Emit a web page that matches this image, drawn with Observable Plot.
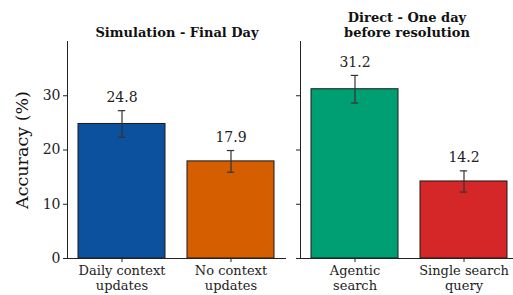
<!DOCTYPE html>
<html><head><meta charset="utf-8">
<script src="https://cdn.jsdelivr.net/npm/d3@7"></script>
<script src="https://cdn.jsdelivr.net/npm/@observablehq/plot@0.6"></script>
<style>
body{margin:0;background:#fff;}
#wrap{display:flex;width:513px;height:295px;overflow:hidden;}
svg{overflow:visible;}
</style></head><body><div id="wrap"></div>
<script>
const leftTitle = "Simulation - Final Day";
const leftCats = ["Daily context\nupdates", "No context\nupdates"];
const leftVals = [24.8, 17.9];
const leftErr = [2.45, 2.0];
const leftColors = ["#0b519e", "#d55e00"];

const rightTitle = "Direct - One day\nbefore resolution";
const rightCats = ["Agentic\nsearch", "Single search\nquery"];
const rightVals = [31.2, 14.2];
const rightErr = [2.55, 1.95];
const rightColors = ["#009e73", "#d62728"];

const yTicks = [0, 10, 20, 30];
const yLabel = "Accuracy (%)";

const FONT = "DejaVu Serif";

function panel({title, cats, vals, errs, colors, width, marginLeft, xRange, showLabels}) {
  const data = cats.map((c, i) => ({c, v: vals[i], e: errs[i], col: colors[i]}));
  const marks = [
    Plot.barY(data, {x: "c", y: "v", fill: "col", stroke: "#1a1a1a", strokeWidth: 1}),
    Plot.ruleX(data, {x: "c", y1: d => d.v - d.e, y2: d => d.v + d.e, stroke: "#333", strokeWidth: 1.2}),
    Plot.tickY(data, {x: "c", y: d => d.v - d.e, stroke: "#333", strokeWidth: 1.2, insetLeft: 39.8, insetRight: 39.8}),
    Plot.tickY(data, {x: "c", y: d => d.v + d.e, stroke: "#333", strokeWidth: 1.2, insetLeft: 39.8, insetRight: 39.8}),
    Plot.text(data, {x: "c", y: d => d.v + d.e, text: d => d.v.toFixed(1), dy: -13, fontSize: 14, fill: "#222"}),
    Plot.ruleY([0], {stroke: "#222", strokeWidth: 1}),
    Plot.frame({anchor: "left", stroke: "#222", strokeWidth: 1}),
    Plot.axisY({ticks: yTicks, tickSize: 4, tickPadding: 3, fontSize: 14, label: null,
      tickFormat: showLabels ? d => String(d) : () => "", stroke: "#222", fill: "#222"}),
    Plot.axisX({tickSize: 4, tickPadding: 3, fontSize: 13, label: null, lineHeight: 1.08, stroke: "#222", fill: "#222"}),
    Plot.text([title], {frameAnchor: "top", lineAnchor: "bottom", dy: -5, fontSize: 13, fontWeight: "bold", fill: "#111", lineHeight: 1.15})
  ];
  if (showLabels) {
    marks.push(Plot.text([yLabel], {frameAnchor: "left", textAnchor: "middle", dx: -45, rotate: -90, fontSize: 17.5, fill: "#111"}));
  }
  return Plot.plot({
    width, height: 295,
    marginLeft, marginRight: 0, marginTop: 41, marginBottom: 37,
    style: {fontFamily: FONT, background: "transparent"},
    x: {domain: cats, range: xRange, paddingInner: 0.2, paddingOuter: 0.1, axis: null},
    y: {domain: [0, 40], axis: null},
    marks
  });
}

const wrap = document.getElementById("wrap");
wrap.append(panel({title: leftTitle, cats: leftCats, vals: leftVals, errs: leftErr, colors: leftColors,
  width: 286, marginLeft: 67, xRange: [67, 286], showLabels: true}));
wrap.append(panel({title: rightTitle, cats: rightCats, vals: rightVals, errs: rightErr, colors: rightColors,
  width: 227, marginLeft: 14, xRange: [14, 233], showLabels: false}));
</script></body></html>
